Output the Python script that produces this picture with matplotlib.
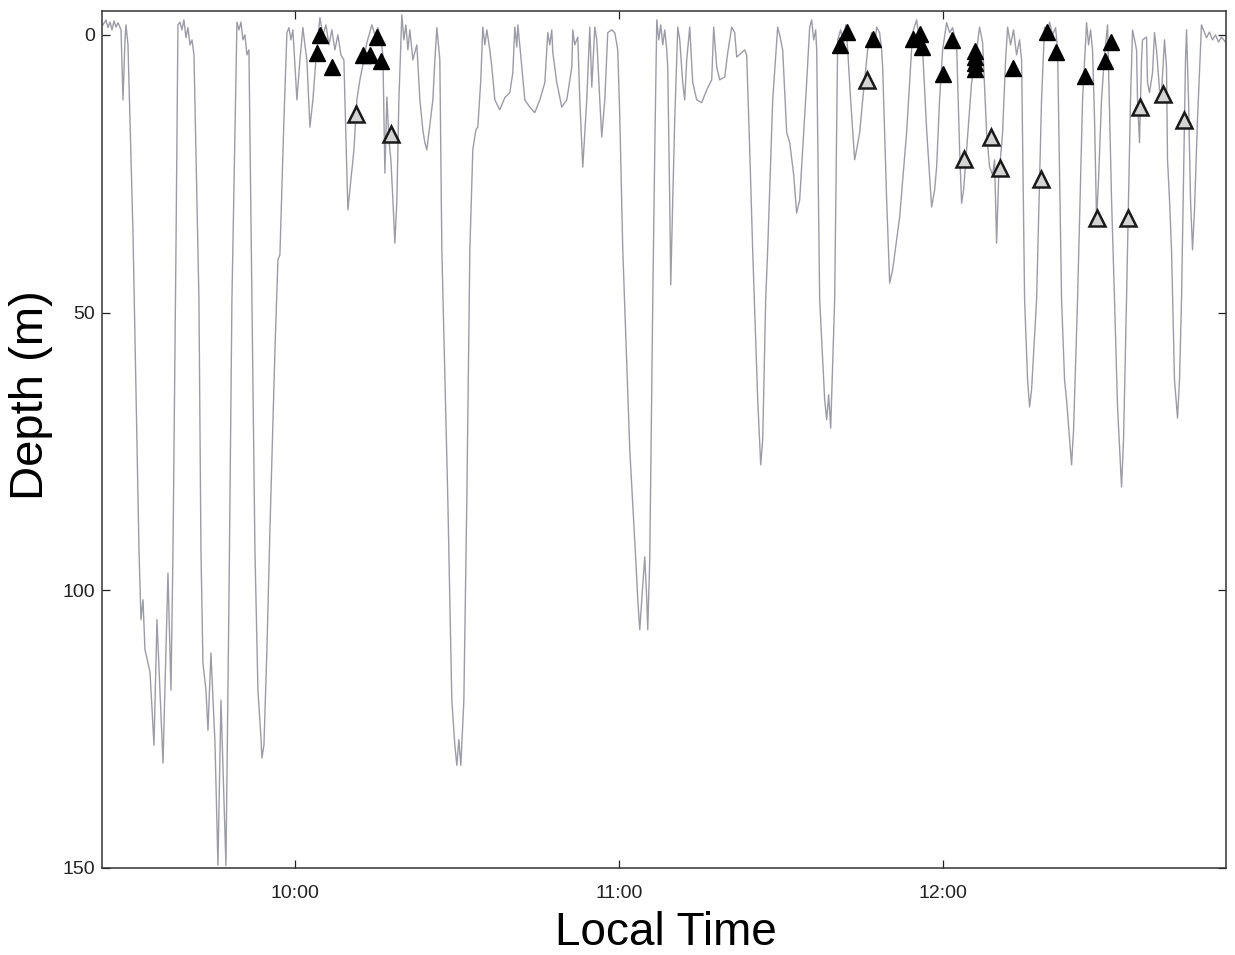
import matplotlib
matplotlib.use("Agg")
import matplotlib.pyplot as plt
from matplotlib.ticker import FixedLocator, FuncFormatter

# Dive record: time in minutes after 09:00, depth in metres
time_min = [
    24.44, 25.00, 25.37, 25.74, 26.11, 26.48, 26.85, 27.22, 27.78, 28.15, 28.52, 28.70, 29.07,
    30.00, 31.11, 31.48, 31.85, 32.22, 33.15, 33.89, 34.44, 35.56, 36.48, 37.04, 37.41, 37.96,
    38.33, 38.70, 39.07, 39.44, 39.81, 40.19, 40.56, 40.93, 41.30,
    42.22, 42.59, 42.96, 43.52, 43.89, 44.44, 45.19, 45.74, 46.30, 47.22, 47.78, 48.33, 49.26,
    49.63, 50.00, 50.37, 50.74, 51.11, 51.48,
    52.04, 52.59, 53.15, 53.70, 53.89, 54.26, 54.81, 55.37, 56.30, 56.85, 57.22, 57.96, 58.52,
    58.89, 59.26, 59.63, 60.37, 60.93, 61.48, 61.85, 62.22, 62.78, 63.33, 63.89, 64.63, 65.19,
    65.74, 66.30, 66.85, 67.41, 67.96, 68.52, 69.07, 69.81, 70.19, 70.93, 71.48, 72.04, 72.59,
    73.33, 74.26, 74.81, 75.37, 75.93, 76.30, 76.67, 77.04, 77.41, 77.78, 78.15, 78.52, 78.89,
    79.26, 79.81, 80.19, 80.56, 80.93, 81.30, 81.85, 82.59, 83.15, 83.70, 84.07, 84.44, 85.00,
    85.56, 85.93, 86.30, 86.85,
    87.22, 88.33, 89.07, 89.63, 90.00, 90.37, 90.74, 91.30, 91.85, 92.41, 92.96, 93.52, 93.89,
    94.44, 94.81, 95.19, 95.56, 96.11, 96.48, 97.04, 97.96, 98.89, 99.81, 100.37, 100.74,
    101.11, 101.30, 102.04, 102.59, 103.52, 104.44, 105.37, 106.30, 106.85, 107.22, 107.59,
    107.78, 108.52, 109.44, 110.37, 111.30, 111.48, 111.85, 112.41, 112.78, 113.33, 114.07,
    114.63, 115.00, 115.56, 115.93, 116.48, 116.85, 117.41, 117.96, 118.70, 119.26, 119.81,
    120.19,
    120.74, 122.04, 123.15, 123.52, 123.89, 124.26, 124.81, 125.19, 125.37, 125.74, 126.30,
    126.67, 127.04, 127.41, 127.78, 128.15, 128.52, 128.89,
    129.07, 129.44, 129.63, 130.00, 130.37, 130.93, 131.30, 131.85, 132.22, 132.59, 133.15,
    133.70, 134.44, 135.37, 136.30, 137.22, 137.59, 138.15, 138.70, 139.63, 140.19, 140.93,
    141.48, 141.85, 142.78, 143.33, 143.70,
    144.26, 144.81, 145.74, 146.30, 146.67, 147.22, 147.59, 148.52, 149.44, 149.81, 150.37,
    151.11, 151.67, 152.41, 152.96, 153.52, 154.07, 154.81, 155.37, 155.74, 156.11, 156.48,
    156.67,
    157.22, 158.15, 158.52, 158.89, 159.26, 160.00, 160.56, 161.11, 161.67, 162.04, 162.41,
    162.96, 163.70, 164.07, 164.63, 165.19, 166.11, 166.85, 167.41, 167.78, 168.33, 168.70,
    168.89, 169.63, 170.19, 170.74, 172.04, 173.33, 174.44, 175.19, 175.56, 175.93, 176.30,
    177.04, 177.96, 178.52, 178.89, 179.44, 180.00, 180.74, 181.30, 181.85, 182.59,
    183.15, 183.52, 183.89, 184.44, 185.37, 186.30, 186.85, 187.41,
    188.15, 188.70, 189.26, 189.63, 190.00, 190.37, 191.11, 191.67, 192.04, 192.59, 193.15,
    193.70, 194.26, 194.63,
    195.19, 195.74, 196.11, 196.48, 197.41, 198.33, 198.89, 199.26, 199.81, 200.37, 200.93,
    201.30,
    202.04, 202.59, 202.96, 203.52, 203.89, 204.26, 205.00, 205.93, 206.67, 207.04, 207.41,
    207.78, 208.15, 208.52, 208.89, 209.44, 210.00, 210.56,
    211.30, 211.85, 212.41, 213.15, 213.52, 214.07, 214.81, 215.19, 215.93, 216.11, 216.48,
    216.85, 217.04, 217.78, 217.96, 218.33, 218.89, 219.26, 219.63, 220.19, 220.56, 221.11,
    221.48, 221.67, 222.04, 222.41,
    222.96, 223.52, 223.89, 224.26, 225.00, 225.19, 225.56, 225.93, 226.30, 226.67, 227.22,
    227.96, 228.33, 228.89, 229.44, 230.00, 230.56, 231.11, 231.67, 232.41,
]
depth_m = [
    -1.8, -2.7, -1.3, -2.3, -0.9, -2.5, -1.4, -2.2, -0.9, 11.7, 0.9, -1.8, 1.8,
    35.7, 92.7, 105.3, 101.7, 110.7, 114.7, 127.9, 105.3, 131.1, 96.9, 118.0, 92.7, 38.7,
    -1.8, -2.3, -0.9, -2.7, 0.5, -1.3, 1.8, 0.9, 3.6,
    47.7, 92.7, 113.1, 118.0, 125.2, 111.3, 127.5, 149.5, 119.8, 149.6, 101.7, 47.7, -2.3,
    -0.9, -2.3, 0.9, 0.0, 3.6, 2.7,
    47.7, 92.7, 118.0, 126.4, 130.2, 127.9, 110.7, 89.1, 56.7, 40.5, 39.6, 15.3, -0.4,
    -1.3, 0.9, -0.9, 11.7, 4.5, -1.3, 1.8, 4.5, 16.6, 11.7, 4.5, -3.1, 0.0,
    -1.8, 1.8, -0.9, 2.7, 0.0, 3.6, 4.5, 31.5, 27.9, 20.7, 11.7, 8.1, 5.4,
    1.4, -1.8, 0.0, -1.3, 0.9, 3.6, 24.9, 11.2, 18.9, 22.5, 29.7, 37.5, 29.7,
    11.7, -3.6, 0.9, -1.8, 2.7, -0.9, 4.5, 1.8, 11.7, 17.1, 19.4, 20.7, 16.2,
    11.7, 4.5, -1.3, 4.5,
    38.7, 83.7, 119.8, 127.9, 131.5, 126.9, 131.5, 119.8, 83.7, 38.7, 20.7, 17.1, 16.6,
    8.1, -1.4, 1.8, -0.9, 2.7, 5.8, 11.7, 13.5, 11.3, 10.4, 6.8, -1.4,
    2.2, -1.8, 5.8, 11.7, 13.0, 14.0, 11.7, 8.6, -0.4, 1.8, -0.9,
    3.2, 8.6, 13.0, 11.7, 5.8, -0.9, 1.8, 0.4, 11.7, 23.8, 11.7,
    -1.4, 9.4, -1.4, 0.9, 11.7, 18.4, 11.7, -0.4, -0.9, -0.4, 2.7,
    14.8,
    38.7, 74.7, 94.5, 101.7, 107.1, 101.7, 94.0, 101.7, 107.1, 94.5, 47.7,
    20.7, -2.7, 0.9, -1.8, 1.8, -0.9, 2.7,
    5.8, 29.7, 45.0, 29.7, 15.3, -1.4, 0.9, 8.6, 11.7, 4.5, -1.4,
    8.6, 11.7, 12.2, 9.9, 8.1, -1.4, 5.8, 8.1, 7.6, 3.2, -1.4,
    -0.4, 4.0, 3.2, 2.7, 3.6,
    20.7, 38.7, 65.7, 77.4, 72.9, 47.7, 38.7, 11.7, -1.4, 0.0, 2.7,
    17.6, 19.4, 25.2, 32.1, 29.7, 20.7, 8.6, -1.4, -2.7, 0.9, -0.9,
    2.7,
    47.7, 65.7, 69.3, 64.8, 70.8, 47.7, 0.9, -0.9, 1.8, -1.8, 2.7,
    11.7, 22.5, 20.7, 17.6, 11.7, 2.7, -0.4, 1.8, -1.4, -0.4, 2.7,
    5.8, 29.7, 44.7, 42.3, 32.8, 17.6, -0.4, -2.7, 0.0, -1.3, 2.7,
    17.1, 31.0, 27.9, 23.8, 11.7, 2.7, -2.2, -0.4, -1.3, 1.8,
    20.7, 30.3, 27.9, 20.7, 8.6, 2.7, -1.4, 1.4,
    17.6, 23.8, 25.2, 22.5, 37.5, 26.1, 17.6, 4.5, -1.4, 1.8, -0.9,
    3.6, 0.9, 4.5,
    47.7, 62.1, 67.0, 63.9, 47.7, 11.7, -1.4, 0.9, -2.3, 0.0, -1.3,
    2.7,
    47.7, 62.1, 65.7, 72.9, 77.4, 71.1, 47.7, 11.7, -2.2, 1.8, -0.9,
    2.7, 15.3, 33.3, 26.1, 11.7, 3.6, -1.8,
    29.7, 47.7, 67.0, 81.4, 72.9, 47.7, 11.7, -0.9, 2.7, 11.7, 19.4,
    4.5, 0.9, 0.4, 8.6, 10.4, 6.8, -0.4, 2.7, 9.9, 10.4, 0.9,
    5.8, 22.5, 29.7, 38.7,
    62.1, 69.0, 62.1, 47.7, 4.5, -0.9, 11.7, 29.7, 38.7, 31.5, 15.3,
    -1.8, -0.9, 0.5, -0.5, 0.9, 0.0, 1.3, 0.4, 1.3,
]

# Event markers (filled and open triangles)
filled_time = [64.63, 64.07, 66.85, 72.59, 73.89, 75.19, 75.93, 162.22, 160.93, 167.04,
               174.44, 175.74, 176.11, 181.67, 180.00, 185.93, 185.93, 185.93, 185.93,
               192.96, 199.26, 200.93, 206.30, 210.00, 211.11]
filled_depth = [0.0, 3.2, 5.8, 3.6, 3.6, 0.4, 4.7, -0.5, 1.8, 0.7,
                0.7, -0.2, 2.2, 0.9, 7.0, 2.9, 4.0, 5.0, 6.1,
                5.9, -0.5, 3.1, 7.4, 4.7, 1.3]
open_time = [71.30, 77.78, 165.93, 183.89, 188.89, 190.56, 198.15, 208.52, 214.26,
             216.48, 220.74, 224.81]
open_depth = [14.2, 17.8, 8.1, 22.3, 18.4, 24.0, 25.9, 33.0, 33.0, 13.0, 10.6, 15.3]

tick_minutes = [60, 120, 180]
tick_labels = ["10:00", "11:00", "12:00"]
depth_ticks = [0, 50, 100, 150]

plt.rcParams["font.family"] = ["Liberation Sans", "DejaVu Sans"]

fig = plt.figure(figsize=(12.35, 9.55), dpi=100)
ax = fig.add_axes([0.0826, 0.0911, 0.9101, 0.8974])

ax.plot(time_min, depth_m, color="#9c9ca6", lw=1.0, zorder=2)
ax.plot(filled_time, filled_depth, linestyle="none", marker="^", ms=12,
        mfc="black", mec="black", mew=1.0, zorder=4)
ax.plot(open_time, open_depth, linestyle="none", marker="^", ms=12,
        mfc="#d4d4d4", mec="#1a1a1a", mew=1.8, zorder=4)

ax.set_xlim(24.26, 232.5)
ax.set_ylim(150, -4.3)

ax.xaxis.set_major_locator(FixedLocator(tick_minutes))
ax.xaxis.set_major_formatter(FuncFormatter(
    lambda v, p: tick_labels[tick_minutes.index(int(round(v)))] if int(round(v)) in tick_minutes else ""))
ax.set_yticks(depth_ticks)

ax.tick_params(direction="in", length=6, width=0.9, colors="#222222",
               top=True, right=True, labelsize=14)
ax.tick_params(axis="x", pad=12)
ax.tick_params(axis="y", pad=5)

for s in ax.spines.values():
    s.set_linewidth(1.1)
    s.set_color("#333333")

ax.set_xlabel("Local Time", fontsize=33)
ax.xaxis.set_label_coords(0.502, -0.0502)
ax.set_ylabel("Depth (m)", fontsize=34)
ax.yaxis.set_label_coords(-0.044, 0.552)

fig.savefig("out.png", dpi=100)
